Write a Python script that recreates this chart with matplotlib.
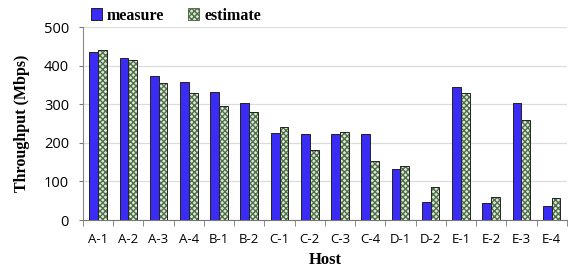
import numpy as np
import matplotlib.pyplot as plt
from matplotlib.patches import Patch

hosts = ['A-1', 'A-2', 'A-3', 'A-4', 'B-1', 'B-2', 'C-1', 'C-2',
         'C-3', 'C-4', 'D-1', 'D-2', 'E-1', 'E-2', 'E-3', 'E-4']
measure = [435, 419, 372, 358, 333, 304, 226, 222, 224, 222, 131, 47, 344, 45, 304, 37]
estimate = [441, 414, 354, 329, 296, 279, 241, 181, 227, 154, 140, 85, 329, 59, 258, 56]

serif = ['Liberation Serif', 'DejaVu Serif']
sans = ['Open Sans', 'DejaVu Sans']

fig = plt.figure(figsize=(5.76, 2.71), dpi=100)
ax = fig.add_axes([0.144, 0.188, 0.84, 0.712])

x = np.arange(len(hosts))
w = 0.29
ax.bar(x - w / 2, measure, w, color='#3b2cf5', edgecolor='#222222', linewidth=0.7, zorder=3)
# checkered fill, then black outline on top
ax.bar(x + w / 2, estimate, w, color='#dfeada', edgecolor='#4f6f48', hatch='xxxxxx',
       linewidth=0, zorder=3)
ax.bar(x + w / 2, estimate, w, fill=False, edgecolor='#222222', linewidth=0.7, zorder=4)

ax.set_xlim(-0.5, len(hosts) - 0.5)
ax.set_ylim(0, 500)
ax.set_yticks([0, 100, 200, 300, 400, 500])
ax.yaxis.grid(True, color='#dcdcdc', linewidth=0.9, zorder=0)
ax.set_axisbelow(True)

ax.set_xticks(x)
ax.set_xticklabels(hosts, fontfamily=sans, fontsize=9.5)
ax.set_xticks(np.arange(len(hosts) + 1) - 0.5, minor=True)
ax.tick_params(axis='x', which='major', length=0, pad=9)
ax.tick_params(axis='x', which='minor', length=4, color='#777777')
ax.tick_params(axis='y', length=3, color='#777777', pad=7)
for t in ax.get_yticklabels():
    t.set_fontfamily(sans)
    t.set_fontsize(10.5)

for s in ['top', 'right']:
    ax.spines[s].set_visible(False)
ax.spines['left'].set_color('#888888')
ax.spines['bottom'].set_color('#777777')

ax.set_xlabel('Host', fontfamily=serif, fontweight='bold', fontsize=12, labelpad=5)
ax.set_ylabel('Throughput (Mbps)', fontfamily=serif, fontweight='bold', fontsize=11.5, labelpad=10)

handles = [Patch(facecolor='#3b2cf5', edgecolor='#222222', linewidth=0.7),
           Patch(facecolor='#dfeada', edgecolor='#4f6f48', hatch='xxxxxx', linewidth=0.7)]
fig.legend(handles, ['measure', 'estimate'], loc='upper left', bbox_to_anchor=(0.133, 1.025),
           ncol=2, frameon=False, handlelength=0.7, handleheight=0.7, handletextpad=0.3,
           columnspacing=1.5, prop={'family': serif, 'weight': 'bold', 'size': 11.5})

fig.savefig('out.png', dpi=100)
